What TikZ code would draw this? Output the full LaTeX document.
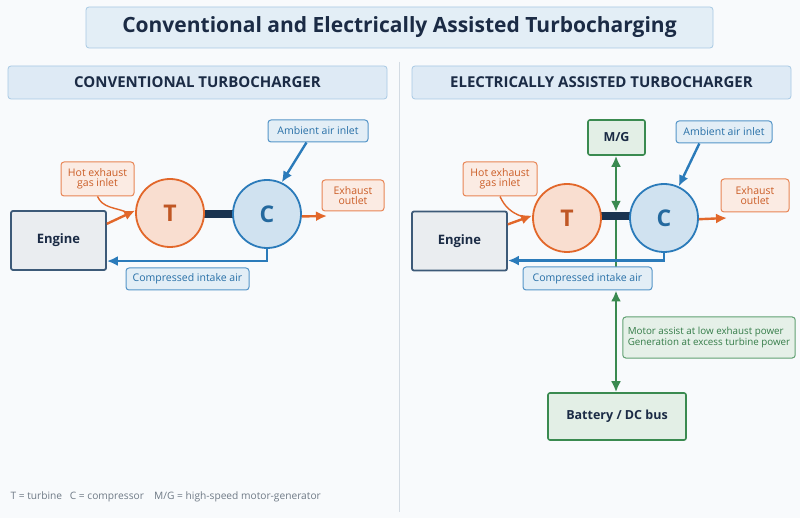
\documentclass[tikz,border=0pt]{standalone}
\usepackage{fontspec}
\setmainfont{Open Sans}
\usepackage{tikz}
\usetikzlibrary{arrows.meta, positioning, calc, backgrounds}
\definecolor{navytext}{HTML}{1B2B45}
\definecolor{turborange}{HTML}{E2672A}
\definecolor{compblue}{HTML}{2B7BBA}
\definecolor{mgreen}{HTML}{3A8A50}
\definecolor{engslate}{HTML}{3D5A78}
\definecolor{shaftnavy}{HTML}{1A3350}
\definecolor{headblue}{HTML}{A8C9E4}
\definecolor{pagebg}{HTML}{F8FAFC}
\definecolor{divgray}{HTML}{D3DBE3}
\definecolor{notegray}{HTML}{6F7A86}
\tikzset{
  % Title and panel headers
  titlebox/.style={
    rectangle, rounded corners=3pt, draw=headblue, fill=headblue!32,
    text=navytext, font=\bfseries\fontsize{21}{24}\selectfont,
    minimum width=627pt, minimum height=41pt, line width=0.8pt,
  },
  headbox/.style={
    rectangle, rounded corners=3pt, draw=headblue, fill=headblue!38,
    text=navytext, font=\bfseries\fontsize{15}{18}\selectfont,
    minimum width=379pt, minimum height=33pt, line width=0.8pt,
  },
  % Engine block
  engine/.style={
    rectangle, rounded corners=2pt, draw=engslate, fill=engslate!11,
    text=navytext, font=\bfseries\fontsize{13}{15}\selectfont,
    minimum width=95pt, minimum height=59pt, line width=1.8pt,
  },
  % Turbine / compressor wheels
  wheel/.style={
    circle, draw=#1, fill=#1!22, text=#1!85!black,
    font=\bfseries\fontsize{23}{26}\selectfont,
    minimum size=68pt, line width=1.8pt, inner sep=0pt,
  },
  wheel/.default={compblue},
  % Shaft between the wheels
  shaft/.style={
    rectangle, fill=shaftnavy, minimum width=30pt, minimum height=8pt,
    inner sep=0pt,
  },
  % Green boxes of the electric path
  elecbox/.style={
    rectangle, rounded corners=2pt, draw=mgreen, fill=mgreen!14,
    text=navytext, font=\bfseries\fontsize{12.5}{15}\selectfont,
    line width=1.6pt,
  },
  % Labels
  tag/.style={
    rectangle, rounded corners=3pt, draw=#1!80, fill=#1!13,
    text=#1!90!black, font=\fontsize{10.5}{12.5}\selectfont,
    align=center, inner xsep=5pt, inner ysep=3pt, line width=1pt,
  },
  tag/.default={compblue},
  % Arrows
  flow/.style={-{Latex[length=11pt,width=10pt]}, line width=2.4pt, draw=#1},
  flow/.default={compblue},
  power/.style={{Latex[length=11pt,width=10pt]}-{Latex[length=11pt,width=10pt]},
    line width=2.4pt, draw=mgreen},
}
\begin{document}
\begin{tikzpicture}[x=1pt, y=-1pt]

  % Page
  \useasboundingbox (0,0) rectangle (800,518);
  \fill[pagebg] (0,0) rectangle (800,518);
  \draw[divgray, line width=1pt] (399,62) -- (399,512);

  % Headings
  \node[titlebox] (title) at (399.5,27.5) {Conventional and Electrically Assisted Turbocharging};
  \node[headbox] (hdrL) at (197.5,82.5) {CONVENTIONAL TURBOCHARGER};
  \node[headbox] (hdrR) at (601.5,82.5) {ELECTRICALLY ASSISTED TURBOCHARGER};

  % Conventional turbocharger
  \node[engine] (engL) at (58.5,240.5) {Engine};
  \node[shaft] (shaftL) at (218,214) {};
  \node[wheel=turborange] (turbL) at (170,213) {T};
  \node[wheel=compblue] (compL) at (267,214) {C};
  \node[tag=turborange, minimum width=73pt, minimum height=34pt] (hotL) at (97.5,179) {Hot exhaust\\[-2pt]gas inlet};
  \node[tag, minimum width=100pt, minimum height=22pt] (ambL) at (318,131) {Ambient air inlet};
  \node[tag=turborange, minimum width=62pt, minimum height=31pt] (exhL) at (353,195.5) {Exhaust\\[-2pt]outlet};
  \node[tag, minimum width=123pt, minimum height=22pt] (airL) at (187.5,279) {Compressed intake air};
  \coordinate (exhtipL) at (327,216);

  \draw[flow=turborange] (engL.19) -- (turbL.176);
  \draw[turborange, line width=1.4pt] (hotL.south) to[out=-65, in=160] ($(turbL.176)+(-10,1)$);
  \draw[flow] (ambL.225) -- (compL.65);
  \draw[flow=turborange] (compL.-4) -- (exhtipL);
  \draw[flow] (compL.south) |- (engL.-23);

  % Electrically assisted turbocharger
  \draw[mgreen, line width=2.4pt] (616,220) -- (616,268);
  \node[engine] (engR) at (459.5,241) {Engine};
  \node[shaft] (shaftR) at (616,216) {};
  \node[wheel=turborange] (turbR) at (567,218) {T};
  \node[wheel=compblue] (compR) at (664,218) {C};
  \node[elecbox, minimum width=57pt, minimum height=35pt] (mg) at (616.5,137.5) {M/G};
  \node[tag=turborange, minimum width=74pt, minimum height=34pt] (hotR) at (500,179) {Hot exhaust\\[-2pt]gas inlet};
  \node[tag, minimum width=96pt, minimum height=22pt] (ambR) at (724,132) {Ambient air inlet};
  \node[tag=turborange, minimum width=68pt, minimum height=33pt] (exhR) at (755,195.5) {Exhaust\\[-2pt]outlet};
  \coordinate (exhtipR) at (727,218);

  \draw[flow=turborange] (engR.19) -- (turbR.176);
  \draw[turborange, line width=1.4pt] (hotR.south) to[out=-65, in=160] ($(turbR.176)+(-10,1)$);
  \draw[flow] (ambR.205) -- (compR.65);
  \draw[flow=turborange] (compR.-2) -- (exhtipR);
  \draw[flow] (compR.south) |- (engR.-22);

  \node[tag, minimum width=129pt, minimum height=23pt] (airR) at (587.5,278.5) {Compressed intake air};
  \node[tag=mgreen, align=left, minimum width=170pt, minimum height=41pt,
        font=\fontsize{9.8}{11.5}\selectfont] (assist) at (709,337.5)
    {Motor assist at low exhaust power\\[-1pt]Generation at excess turbine power};
  \node[elecbox, minimum width=138pt, minimum height=47pt] (batt) at (617,416.5) {Battery / DC bus};

  \draw[power] (mg.south -| shaftR) -- (shaftR.north);
  \draw[power] (shaftR |- airR.south) -- (shaftR |- batt.north);

  % Legend
  \node[anchor=west, text=notegray, font=\fontsize{10.2}{12}\selectfont] (legend) at (7,497)
    {T = turbine\enspace\ C = compressor\enspace\enspace M/G = high-speed motor-generator};

\end{tikzpicture}
\end{document}
